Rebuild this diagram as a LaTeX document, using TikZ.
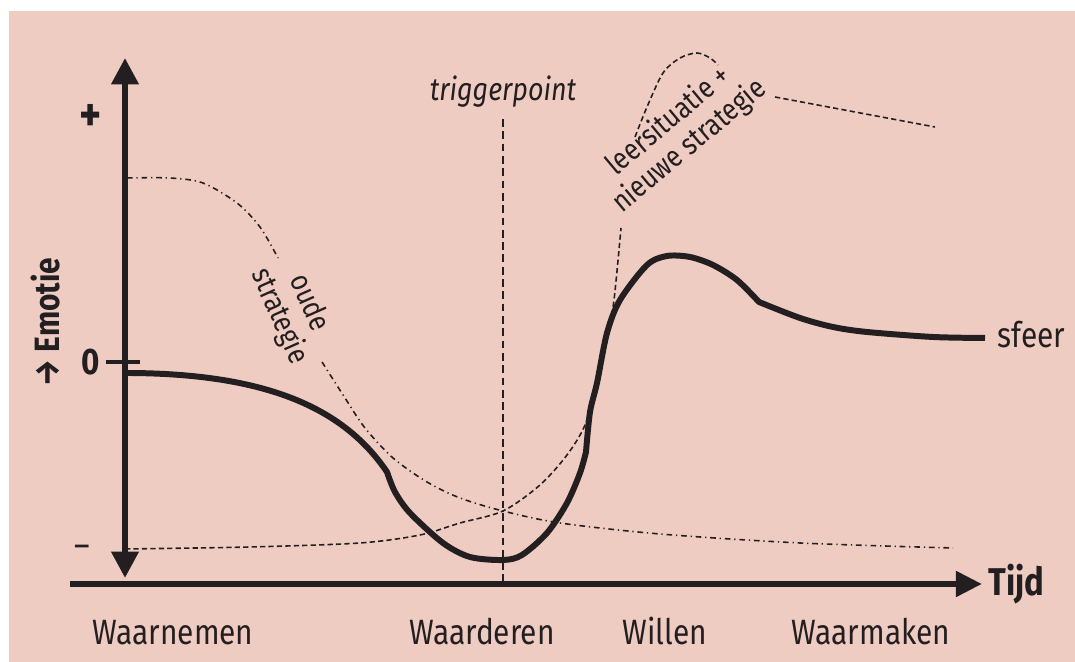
\documentclass[tikz,border=0pt]{standalone}
\usepackage{fontspec}
\setmainfont{Fira Sans}[FakeStretch=0.85]
\usetikzlibrary{arrows.meta}
\definecolor{roze}{RGB}{239,204,194}
\definecolor{inkt}{RGB}{35,31,32}

\begin{document}
\begin{tikzpicture}[x=0.01cm,y=-0.01cm,
      as/.style={draw=inkt,line width=1.7pt},
      sfeerlijn/.style={draw=inkt,line width=1.7pt,line join=round},
      oud/.style={draw=inkt,line width=0.45pt,dash pattern=on 1.6pt off 1.1pt on 0.35pt off 1.1pt},
      nieuw/.style={draw=inkt,line width=0.45pt,dash pattern=on 1.5pt off 0.9pt},
      trig/.style={draw=inkt,line width=0.45pt,dash pattern=on 2.2pt off 1.3pt},
      lbl/.style={text=inkt,inner sep=0pt,font=\fontsize{10}{12}\selectfont},
      notitie/.style={text=inkt,inner sep=0pt,align=center,font=\fontsize{8.5}{9.2}\selectfont}]
      % Achtergrond
      \fill[white] (0,0) rectangle (1075,662);
      \fill[roze] (9,11) rectangle (1075,662);
      % Assen
      \coordinate (ytop) at (125,58);
      \coordinate (ybot) at (125,578);
      \coordinate (xlinks) at (70,584);
      \coordinate (xrechts) at (982,584);
      \draw[as,{Triangle[length=7.5pt,width=7.5pt]}-{Triangle[length=7.5pt,width=7.5pt]}] (ytop) -- (ybot);
      \draw[as,-{Triangle[length=7.4pt,width=7pt]}] (xlinks) -- (xrechts);
      \draw[inkt,line width=1.2pt] (106,362) -- (140,362);
      \node[lbl,font=\bfseries\fontsize{14}{14}\selectfont] (plus) at (91,118) {+};
      \node[lbl,font=\bfseries\fontsize{10.5}{12}\selectfont] (nul) at (91,362) {0};
      \node[lbl] (min) at (82,551) {–};
      \node[lbl,rotate=90,font=\bfseries\fontsize{10}{12}\selectfont] (emotie) at (46,322) {→ Emotie};
      \node[lbl,anchor=base west,font=\bfseries\fontsize{11}{12}\selectfont] (tijd) at (988,596) {Tijd};
      % Fasen
      \node[lbl,anchor=base] (waarnemen) at (173,645) {Waarnemen};
      \node[lbl,anchor=base] (waarderen) at (482,645) {Waarderen};
      \node[lbl,anchor=base] (willen) at (665,645) {Willen};
      \node[lbl,anchor=base] (waarmaken) at (871,645) {Waarmaken};
      % Triggerpoint
      \node[lbl,anchor=base,font=\itshape\fontsize{9}{10}\selectfont] (trigger) at (503,101) {triggerpoint};
      \draw[trig] ([yshift=-3pt]trigger.south) -- (trigger.south |- xlinks);
      % Oude strategie
      \draw[oud] plot[smooth] coordinates {(127,178) (170,178) (203,183) (237,203) (260,227) (278,258)};
      \draw[oud] plot[smooth] coordinates {(322,362) (345,398) (365,428) (393,458) (427,482) (460,498) (503,511) (560,523) (660,534) (800,543) (953,548)};
      \node[notitie,rotate=-66] (oude) at (294,310) {oude\\strategie};
      % Nieuwe strategie
      \draw[nieuw] plot[smooth] coordinates {(125,549) (250,547) (360,543) (420,535) (460,523) (503,511) (540,485) (567,455) (585,425) (597,383) (607,340) (614,300) (621,228)};
      \draw[nieuw] plot[smooth] coordinates {(635,137) (647,107) (663,73) (680,58) (697,53) (710,58) (718,65)};
      \draw[nieuw] (775,97) -- (935,127);
      \node[notitie,rotate=40] (leer) at (679,134) {leersituatie +\\nieuwe strategie};
      % Sfeer
      \draw[sfeerlijn] (125,373) .. controls (270,373) and (345,410) .. (387,472)
        -- plot[smooth] coordinates {(387,472) (395,492) (410,513) (443,543) (470,557) (503,560) (522,555) (547,533) (567,503) (580,473) (586,452)}
        -- plot[smooth] coordinates {(586,452) (590,412) (597,383) (607,333) (620,300) (647,265) (667,256) (690,257) (713,265) (737,280) (759,302)}
        -- plot[smooth] coordinates {(759,302) (800,318) (833,327) (867,332) (933,337) (985,338)};
      \node[lbl,anchor=base west] (sfeer) at (997,348) {sfeer};
    \end{tikzpicture}
\end{document}
